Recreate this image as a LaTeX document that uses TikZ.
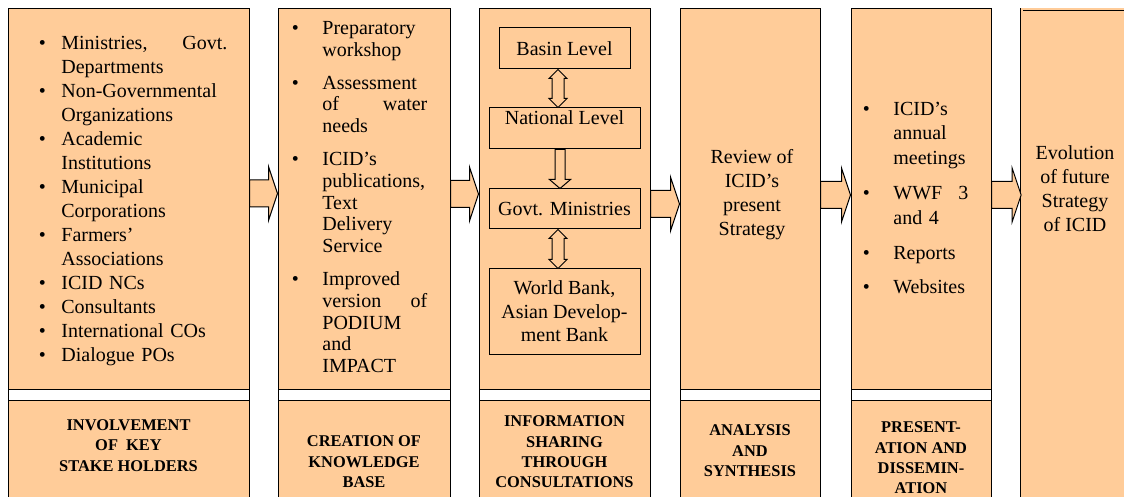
\documentclass[tikz,border=0pt]{standalone}
\usepackage{fontspec}
\setmainfont{Liberation Serif}
\usepackage{tikz}
\usetikzlibrary{calc, positioning}
\definecolor{peach}{RGB}{255,204,153}

\newlength\bhang
% list set-up: baselineskip, parskip, hanging indent
\newcommand\bulletlist[3]{\fontsize{10}{#1}\selectfont\setlength\parskip{#2}\setlength\bhang{#3}\hyphenpenalty=10000\relax}
\newcommand\bitem[1]{\par\noindent\hangindent=\bhang\hangafter=1\hbox to\bhang{\textbullet\hfil}#1}
\newcommand\nextline{\hfil\break}

% block arrow from box #1 to box #2 at height #3
\newcommand\blockarrow[3]{%
  \draw[flowarrow] (#1.east |- 0,#3-13.5) -- ($(#2.west |- 0,#3)+(-9,-13.5)$) -- ++(0,-13.5)
    -- (#2.west |- 0,#3) -- ++(-9,27) -- ++(0,-13.5) -- (#1.east |- 0,#3+13.5) -- cycle;}
% two-headed vertical arrow between #1 (above) and #2 (below) at x = #3
\newcommand\updown[3]{%
  \draw[flowarrow] (#1.south -| #3,0) -- ++(9,9) -- ++(-3,0) -- ($(#2.north -| #3,0)+(6,-9)$)
    -- ++(3,0) -- (#2.north -| #3,0) -- ++(-9,-9) -- ++(3,0) -- ($(#1.south -| #3,0)+(-6,9)$)
    -- ++(-3,0) -- cycle;}
% one-headed vertical arrow, downwards
\newcommand\downto[3]{%
  \draw[flowarrow] ($(#1.south -| #3,0)+(-5,0)$) -- ++(10,0) -- ($(#2.north -| #3,0)+(5,-9)$)
    -- ++(5.5,0) -- (#2.north -| #3,0) -- ++(-10.5,-9) -- ++(5.5,0) -- cycle;}

\begin{document}
\begin{tikzpicture}[x=0.5pt, y=-0.5pt,
    box/.style={draw, fill=peach, line width=0.5pt, inner sep=0pt},
    gapbox/.style={draw, fill=white, line width=0.5pt, inner sep=0pt},
    levelbox/.style={box, align=center, font=\fontsize{10}{11.75}\selectfont},
    flowarrow/.style={draw, fill=peach, line width=0.5pt, line join=miter},
    tagtext/.style={align=center, inner sep=0pt, font=\fontsize{8.2}{10.2}\selectfont\bfseries},
    maintext/.style={align=center, inner sep=0pt, font=\fontsize{10}{12}\selectfont},
    listtext/.style={align=left, inner sep=0pt, anchor=north west}]
    \useasboundingbox (0,0) rectangle (1124,497);
    \clip (0,0) rectangle (1124,497);

    % columns: upper box, white strip, lower box
    \foreach \n/\xl/\xr in {stake/8/249, know/278/450, info/479/650, anal/680/820, pres/851/991} {
        \node[box, minimum width={(\xr-\xl)*0.5pt}, minimum height=190pt] (\n) at ({(\xl+\xr)/2},199) {};
        \node[gapbox, minimum width={(\xr-\xl)*0.5pt}, minimum height=5.5pt] (\n-gap) at ({(\xl+\xr)/2},394.5) {};
        \node[box, minimum width={(\xr-\xl)*0.5pt}, minimum height=60pt] (\n-low) at ({(\xl+\xr)/2},460) {};
    }

    % last column
    \node[box, double, double=peach, double distance=1pt, line width=0.4pt,
          minimum width=90pt, minimum height=256pt] (evol) at (1111.5,265.5) {};

    % stake holders
    \node[listtext, text width=94.25pt] (stake-list) at (38.5,25) {\bulletlist{12pt}{0pt}{11.25pt}%
        \bitem{Ministries,\hfill Govt.\nextline Departments}
        \bitem{Non-Governmental\nextline Organizations}
        \bitem{Academic\nextline Institutions}
        \bitem{Municipal\nextline Corporations}
        \bitem{Farmers’\nextline Associations}
        \bitem{ICID NCs}
        \bitem{Consultants}
        \bitem{International COs}
        \bitem{Dialogue POs}\par};
    \node[tagtext] (stake-tag) at (128.5,445.5) {INVOLVEMENT\\OF\ \ KEY\\STAKE HOLDERS};

    % knowledge base
    \node[listtext, text width=67.75pt] (know-list) at (291.5,1.4) {\bulletlist{10.9pt}{5.5pt}{15.25pt}%
        \bitem{Preparatory\nextline workshop}
        \bitem{Assessment\nextline of\hfill water\nextline needs}
        \bitem{ICID’s\nextline publications,\nextline Text\nextline Delivery\nextline Service}
        \bitem{Improved\nextline version\hfill of\nextline PODIUM\nextline and\nextline IMPACT}\par};
    \node[tagtext] (know-tag) at (364,462) {CREATION OF\\KNOWLEDGE\\BASE};

    % consultations
    \node[levelbox, minimum width=65.5pt, minimum height=20.5pt] (basin) at (564.5,48.5) {Basin Level};
    \node[levelbox, minimum width=75.5pt, text height=8.3pt, text depth=12.2pt] (national) at (564.5,128.5) {National Level};
    \node[levelbox, minimum width=75.5pt, minimum height=20pt] (govt) at (564.5,209) {Govt. Ministries};
    \node[levelbox, minimum width=75.5pt, minimum height=42.5pt] (bank) at (564.5,311.5) {World Bank,\\Asian Develop-\\ment Bank};
    \updown{basin}{national}{558}
    \downto{national}{govt}{560}
    \updown{govt}{bank}{558}
    \node[tagtext] (info-tag) at (564.5,452) {INFORMATION\\SHARING\\THROUGH\\CONSULTATIONS};

    % analysis
    \node[maintext] (anal-text) at (752,195) {Review of\\ICID’s\\present\\Strategy};
    \node[tagtext] (anal-tag) at (750,451) {ANALYSIS\\AND\\SYNTHESIS};

    % presentation
    \node[listtext, text width=52.75pt] (pres-list) at (862.5,80) {\bulletlist{12.4pt}{5pt}{15.25pt}%
        \bitem{ICID’s\nextline annual\nextline meetings}
        \bitem{WWF\hfill 3\nextline and 4}
        \bitem{Reports}
        \bitem{Websites}\par};
    \node[tagtext] (pres-tag) at (921,458) {PRESENT-\\ATION AND\\DISSEMIN-\\ATION};

    % evolution
    \node[maintext] (evol-text) at (1075,189) {Evolution\\of future\\Strategy\\of ICID};

    % flow between columns
    \blockarrow{stake}{know}{193.5}
    \blockarrow{know}{info}{194}
    \blockarrow{info}{anal}{204}
    \blockarrow{anal}{pres}{195}
    \blockarrow{pres}{evol}{195}
\end{tikzpicture}
\end{document}
